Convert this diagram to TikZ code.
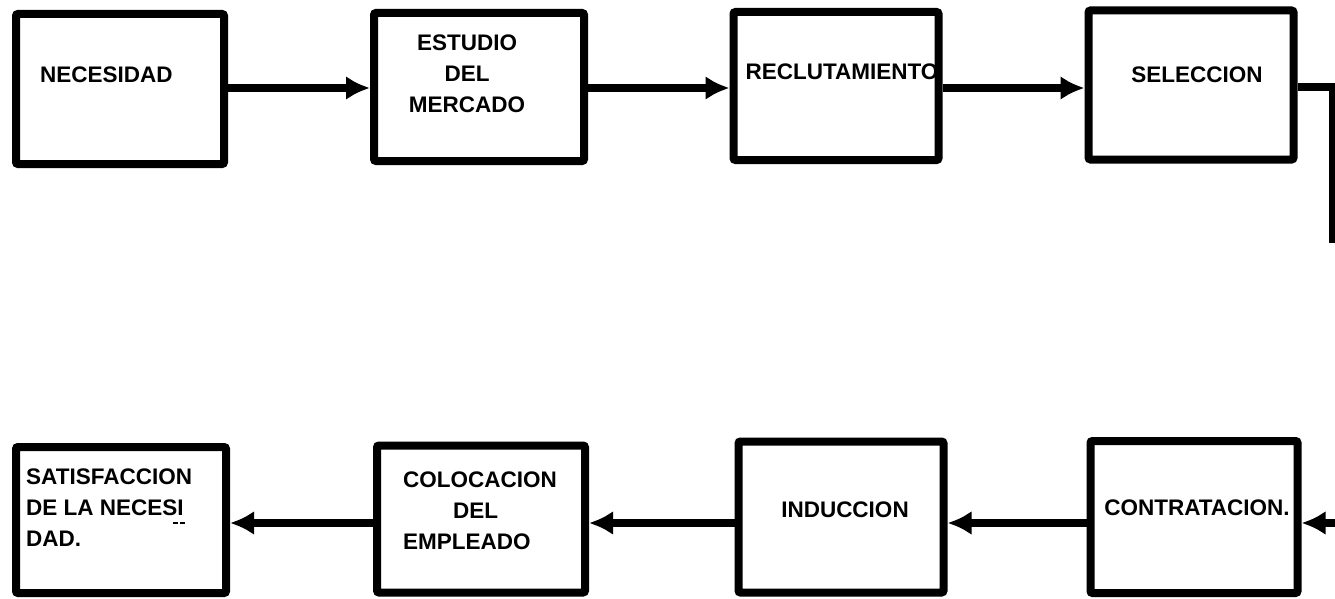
\documentclass[tikz,border=0pt]{standalone}
\usepackage{fontspec}
\setmainfont{Liberation Sans}
\usetikzlibrary{arrows.meta}
\tikzset{
  box/.style={draw=black, line width=8pt, rounded corners=2pt, fill=white, inner sep=0pt},
  lbl/.style={font=\fontsize{22.5}{31}\selectfont\bfseries, inner sep=0pt, align=center},
  conn/.style={line width=8pt, draw=black},
  arr/.style={conn, -{Latex[length=24pt,width=24pt]}}
}
\newcommand{\hyphmark}{\llap{\rule[-8pt]{5pt}{1.6pt}\hspace{2pt}\rule[-8pt]{5pt}{1.6pt}\hspace{-1pt}}}
\begin{document}
\begin{tikzpicture}[x=1pt,y=-1pt]
\useasboundingbox (0,0) rectangle (1335,599);
% top row boxes
\node[box, minimum width=208pt, minimum height=150pt] (n1) at (120,89) {};
\node[box, minimum width=210pt, minimum height=148pt] (n2) at (479,87) {};
\node[box, minimum width=205pt, minimum height=148pt] (n3) at (836,86) {};
\node[box, minimum width=205pt, minimum height=149pt] (n4) at (1191,85) {};
% bottom row boxes
\node[box, minimum width=210pt, minimum height=146pt] (b1) at (121,520) {};
\node[box, minimum width=208pt, minimum height=147pt] (b2) at (481,519) {};
\node[box, minimum width=205pt, minimum height=151pt] (b3) at (841,517) {};
\node[box, minimum width=207pt, minimum height=152pt] (b4) at (1194,517) {};
% labels
\node[lbl, anchor=west] (t1) at (40,75) {NECESIDAD};
\node[lbl] (t2) at (467,74) {ESTUDIO\\DEL\\MERCADO};
\node[lbl] (t3) at (842,72) {RECLUTAMIENTO};
\node[lbl] (t4) at (1197,75) {SELECCION};
\node[lbl, anchor=west, align=left] (s1) at (26,508) {SATISFACCION\\DE LA NECESI\hyphmark\\DAD.};
\node[lbl, anchor=west, align=left] (s2) at (403,511) {COLOCACION\\\hspace*{50pt}DEL\\EMPLEADO};
\node[lbl] (s3) at (845,510) {INDUCCION};
\node[lbl] (s4) at (1197,508) {CONTRATACION.};
% connectors top
\coordinate (c1) at (1333,243);
\coordinate (c2) at (1335,523);
\draw[arr] (n1.east |- 0,88) -- (n2.west |- 0,88);
\draw[arr] (n2.east |- 0,88) -- (n3.west |- 0,88);
\draw[arr] (n3.east |- 0,88) -- (n4.west |- 0,88);
\draw[conn] (n4.east |- 0,87) -| (c1);
% connectors bottom
\draw[arr] (c2) -- (b4.east |- 0,523);
\draw[arr] (b4.west |- 0,523) -- (b3.east |- 0,523);
\draw[arr] (b3.west |- 0,523) -- (b2.east |- 0,523);
\draw[arr] (b2.west |- 0,523) -- (b1.east |- 0,523);
\end{tikzpicture}
\end{document}
